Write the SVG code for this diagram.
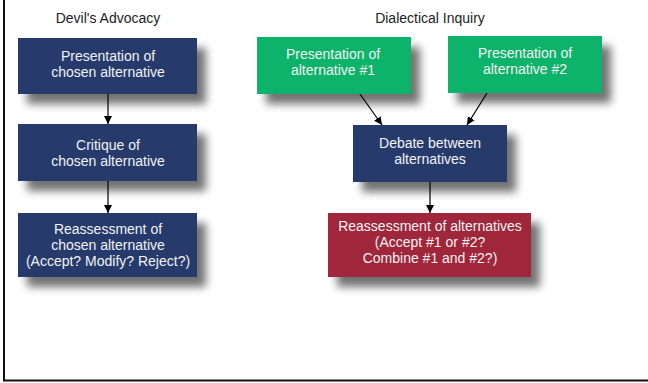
<svg xmlns="http://www.w3.org/2000/svg" width="648" height="383" viewBox="0 0 648 383">
<defs>
<filter id="sh" x="-20%" y="-30%" width="150%" height="180%">
<feDropShadow dx="9" dy="10" stdDeviation="4" flood-color="#000" flood-opacity="0.55"/>
</filter>
<marker id="ah" viewBox="0 0 10 10" refX="10" refY="5" markerWidth="8" markerHeight="8" markerUnits="userSpaceOnUse" orient="auto">
<path d="M0,0 L10,5 L0,10 Z" fill="#000"/>
</marker>
<style>
.t{font-family:"Liberation Sans",Arial,sans-serif;font-size:14px;text-anchor:middle}
.w{fill:#f2f2f2}
.h{fill:#222}
.blue{fill:#263a6c;filter:url(#sh)}
.green{fill:#0db36a;filter:url(#sh)}
.red{fill:#a0283a;filter:url(#sh)}
.c{stroke:#000;stroke-width:1.2;fill:none;marker-end:url(#ah)}
</style>
</defs>
<rect width="648" height="383" fill="#fff"/>
<path d="M4,0 V380.5 H648" fill="none" stroke="#111" stroke-width="2"/>
<text class="t h" x="108" y="23">Devil's Advocacy</text>
<text class="t h" x="430" y="23">Dialectical Inquiry</text>
<g id="connectors">
<line class="c" x1="108" y1="94" x2="108" y2="124"/>
<line class="c" x1="108" y1="181" x2="108" y2="213"/>
<line class="c" x1="360" y1="94" x2="382" y2="125"/>
<line class="c" x1="487" y1="93" x2="467" y2="125"/>
<line class="c" x1="430" y1="182" x2="430" y2="213"/>
</g>
<g id="da1">
<rect class="blue" x="18" y="38" width="179" height="56"/>
<text class="t w" x="108" y="61">Presentation of</text>
<text class="t w" x="108" y="77">chosen alternative</text>
</g>
<g id="da2">
<rect class="blue" x="18" y="124" width="179" height="57"/>
<text class="t w" x="108" y="150">Critique of</text>
<text class="t w" x="108" y="166">chosen alternative</text>
</g>
<g id="da3">
<rect class="blue" x="18" y="213" width="179" height="64"/>
<text class="t w" x="108" y="234">Reassessment of</text>
<text class="t w" x="108" y="250">chosen alternative</text>
<text class="t w" x="108" y="266">(Accept? Modify? Reject?)</text>
</g>
<g id="di1">
<rect class="green" x="257" y="37" width="154" height="57"/>
<text class="t w" x="333" y="59">Presentation of</text>
<text class="t w" x="333" y="75">alternative #1</text>
</g>
<g id="di2">
<rect class="green" x="448" y="36" width="154" height="57"/>
<text class="t w" x="525" y="58">Presentation of</text>
<text class="t w" x="525" y="74">alternative #2</text>
</g>
<g id="di3">
<rect class="blue" x="353" y="125" width="154" height="57"/>
<text class="t w" x="430" y="148">Debate between</text>
<text class="t w" x="430" y="164">alternatives</text>
</g>
<g id="di4">
<rect class="red" x="328" y="213" width="203" height="64"/>
<text class="t w" x="430" y="231">Reassessment of alternatives</text>
<text class="t w" x="430" y="247">(Accept #1 or #2?</text>
<text class="t w" x="430" y="263">Combine #1 and #2?)</text>
</g>
</svg>
